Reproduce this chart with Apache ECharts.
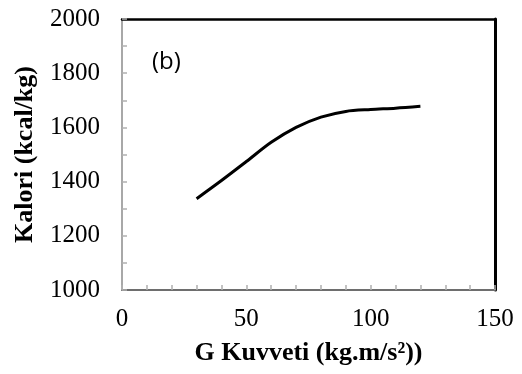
<!DOCTYPE html>
<html>
<head>
<meta charset="utf-8">
<script src="https://cdn.jsdelivr.net/npm/echarts@6/dist/echarts.min.js"></script>
<style>html,body{margin:0;padding:0;background:#fff}#c{width:522px;height:374px}</style>
</head>
<body>
<div id="c"></div>
<script>
var gForce = [30, 40, 50, 60, 70, 80, 90, 100, 110, 120];
var calori = [1337, 1404, 1474, 1545, 1600, 1638, 1659, 1666, 1671, 1678];
var xTickLabels = [0, 50, 100, 150];
var yTickLabels = [1000, 1200, 1400, 1600, 1800, 2000];
var panelLabel = '(b)';
var xTitle = 'G Kuvveti (kg.m/s²))';
var yTitle = 'Kalori (kcal/kg)';

var chart = echarts.init(document.getElementById('c'));
var serif = '"Liberation Serif", "Times New Roman", serif';
var pts = gForce.map(function (x, i) { return [x, calori[i]]; });
chart.setOption({
  animation: false,
  backgroundColor: '#fff',
  title: {
    text: panelLabel, left: 147, top: 45,
    textStyle: { fontFamily: '"Open Sans", "Noto Sans", sans-serif', fontSize: 24, fontWeight: 'normal', color: '#000' }
  },
  grid: { left: 122, right: 27, top: 19, bottom: 84 },
  xAxis: [{
    type: 'value', min: 0, max: 150, interval: 10, position: 'bottom',
    name: xTitle, nameLocation: 'middle', nameGap: 50,
    nameTextStyle: { fontFamily: serif, fontSize: 26, fontWeight: 'bold', color: '#000' },
    axisLine: { onZero: false, lineStyle: { color: '#6e6e6e', width: 2 } },
    axisTick: { inside: true, length: 5, lineStyle: { color: '#b0b0b0', width: 1.5 } },
    axisLabel: {
      margin: 17, fontFamily: serif, fontSize: 25, color: '#000',
      formatter: function (v) { return xTickLabels.indexOf(v) >= 0 ? String(v) : ''; }
    },
    splitLine: { show: false }
  }, {
    type: 'value', min: 0, max: 150, position: 'top',
    axisLine: { onZero: false, lineStyle: { color: '#000', width: 2.5 } },
    axisTick: { show: false }, axisLabel: { show: false }, splitLine: { show: false }
  }],
  yAxis: [{
    type: 'value', min: 1000, max: 2000, interval: 100, position: 'left',
    name: yTitle, nameLocation: 'middle', nameGap: 84, nameRotate: 90,
    nameTextStyle: { fontFamily: serif, fontSize: 26, fontWeight: 'bold', color: '#000' },
    axisLine: { onZero: false, lineStyle: { color: '#a8a8a8', width: 2 } },
    axisTick: { inside: true, length: 5, lineStyle: { color: '#b0b0b0', width: 1.5 } },
    axisLabel: {
      margin: 22, fontFamily: serif, fontSize: 25, color: '#000',
      formatter: function (v) { return yTickLabels.indexOf(v) >= 0 ? String(v) : ''; }
    },
    splitLine: { show: false }
  }, {
    type: 'value', min: 1000, max: 2000, position: 'right',
    axisLine: { onZero: false, lineStyle: { color: '#000', width: 3 } },
    axisTick: { show: false }, axisLabel: { show: false }, splitLine: { show: false }
  }],
  series: [{
    type: 'line', data: pts, smooth: 0.3, showSymbol: false,
    lineStyle: { color: '#000', width: 3 }
  }]
});
</script>
</body>
</html>
